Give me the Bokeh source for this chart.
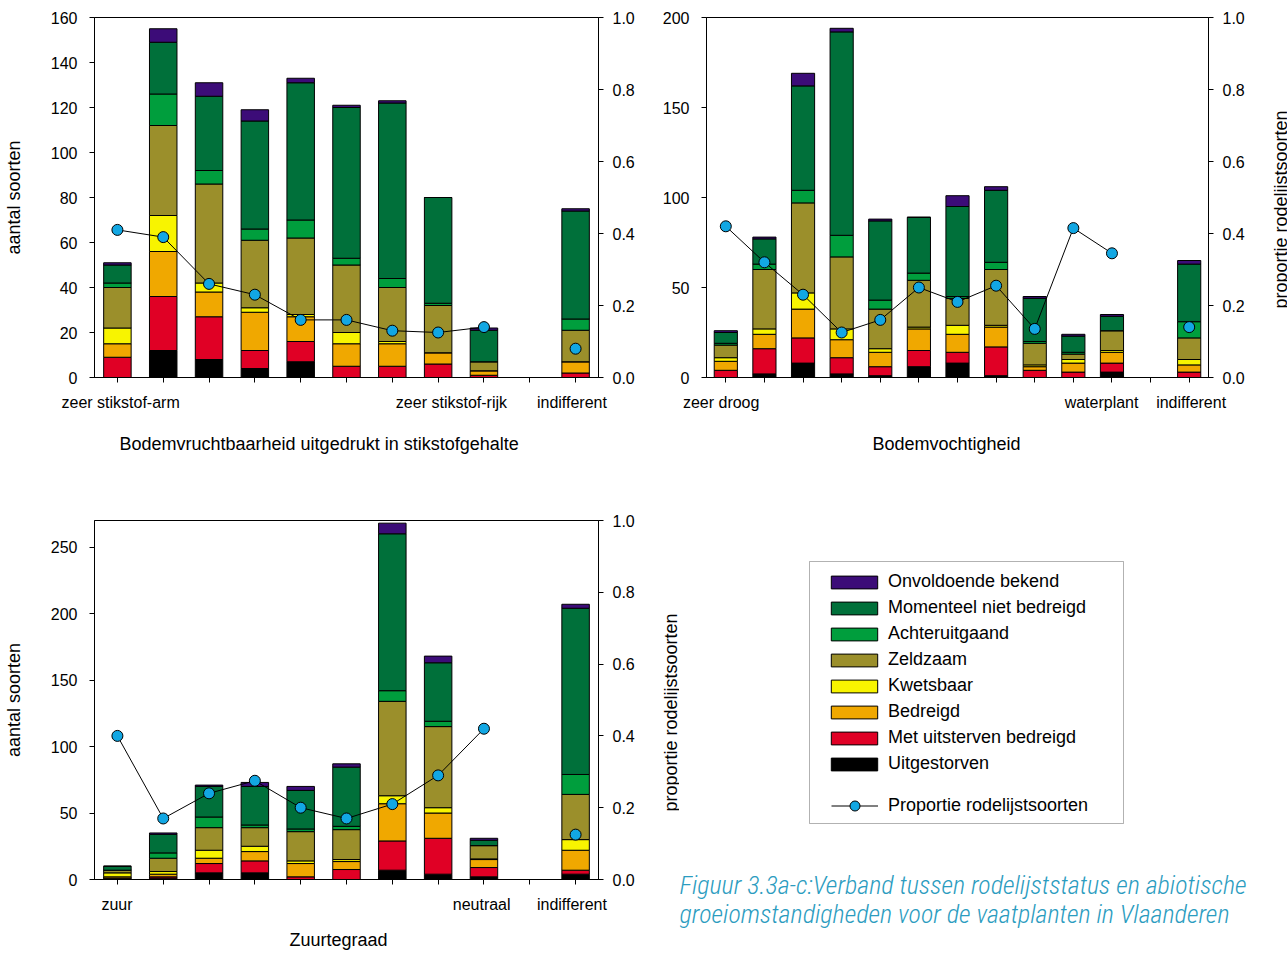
import math
from bokeh.plotting import figure
from bokeh.models import (Range1d, LinearAxis, FixedTicker, NumeralTickFormatter,
                          ColumnDataSource, Legend, LegendItem, BoxAnnotation, Label, Title)
from bokeh.layouts import row, column
from bokeh.embed import file_html
from bokeh.resources import INLINE

nan = float("nan")

# ---- legend / status classes (bottom -> top of each bar) ----
status_keys = ["uitgestorven", "met_uitsterven", "bedreigd", "kwetsbaar",
               "zeldzaam", "achteruit", "momenteel", "onvoldoende"]
status_names = ["Uitgestorven", "Met uitsterven bedreigd", "Bedreigd", "Kwetsbaar",
                "Zeldzaam", "Achteruitgaand", "Momenteel niet bedreigd", "Onvoldoende bekend"]
status_colors = ["#000000", "#e00025", "#f0a800", "#f8f400",
                 "#9b8f2b", "#009e3d", "#00703a", "#3c0c78"]
prop_name = "Proportie rodelijstsoorten"

# ---- chart a: stikstof ----
a_uitgestorven = [0, 12, 8, 4, 7, 0, 0, 0, 0, 0, 0]
a_met_uitsterven = [9, 24, 19, 8, 9, 5, 5, 6, 1, 0, 2]
a_bedreigd = [6, 20, 11, 17, 11, 10, 10, 5, 2, 0, 5]
a_kwetsbaar = [7, 16, 4, 2, 1, 5, 1, 0, 0, 0, 0]
a_zeldzaam = [18, 40, 44, 30, 34, 30, 24, 21, 4, 0, 14]
a_achteruit = [2, 14, 6, 5, 8, 3, 4, 1, 0, 0, 5]
a_momenteel = [8, 23, 33, 48, 61, 67, 78, 47, 14, 0, 48]
a_onvoldoende = [1, 6, 6, 5, 2, 1, 1, 0, 1, 0, 1]
a_prop = [0.41, 0.39, 0.26, 0.23, 0.16, 0.16, 0.13, 0.125, 0.14, nan, 0.08]
a_tick_pos = [1.07, 8.29, 10.92]
a_tick_labels = ["zeer stikstof-arm", "zeer stikstof-rijk", "indifferent"]
a_title = "Bodemvruchtbaarheid uitgedrukt in stikstofgehalte"

# ---- chart b: vochtigheid ----
b_uitgestorven = [0, 2, 8, 2, 1, 6, 8, 1, 0, 0, 3, 0, 0]
b_met_uitsterven = [4, 14, 14, 9, 5, 9, 6, 16, 4, 3, 5, 0, 3]
b_bedreigd = [5, 8, 16, 10, 8, 12, 10, 11, 2, 5, 6, 0, 4]
b_kwetsbaar = [2, 3, 9, 6, 2, 1, 5, 1, 1, 2, 1, 0, 3]
b_zeldzaam = [7, 33, 50, 40, 22, 26, 15, 31, 12, 3, 11, 0, 12]
b_achteruit = [1, 3, 7, 12, 5, 4, 1, 4, 1, 1, 0, 0, 9]
b_momenteel = [6, 14, 58, 113, 44, 31, 50, 40, 24, 9, 8, 0, 32]
b_onvoldoende = [1, 1, 7, 2, 1, 0, 6, 2, 1, 1, 1, 0, 2]
b_prop = [0.42, 0.32, 0.23, 0.125, 0.16, 0.25, 0.21, 0.255, 0.135, 0.415, 0.345, nan, 0.14]
b_tick_pos = [0.88, 10.73, 13.05]
b_tick_labels = ["zeer droog", "waterplant", "indifferent"]
b_title = "Bodemvochtigheid"

# ---- chart c: zuurtegraad ----
c_uitgestorven = [1, 1, 5, 5, 0, 0, 7, 4, 2, 0, 4]
c_met_uitsterven = [0, 1, 7, 9, 2, 7.5, 22, 27, 7, 0, 3]
c_bedreigd = [1, 2, 4, 7, 10, 6, 28, 19, 6, 0, 15]
c_kwetsbaar = [3, 2, 6, 4, 2, 1.5, 6, 4, 0.5, 0, 8]
c_zeldzaam = [2, 10, 17, 14, 22, 22.5, 71, 61, 10, 0, 34]
c_achteruit = [0, 4, 8, 2, 2, 2.5, 8, 4, 0, 0, 15]
c_momenteel = [3, 14, 23, 29, 29, 44.5, 118, 44, 4, 0, 125]
c_onvoldoende = [0, 1, 1, 3, 3, 2.5, 8, 5, 1.5, 0, 3]
c_prop = [0.40, 0.17, 0.24, 0.275, 0.20, 0.17, 0.21, 0.29, 0.42, nan, 0.125]
c_tick_pos = [0.99, 8.95, 10.92]
c_tick_labels = ["zuur", "neutraal", "indifferent"]
c_title = "Zuurtegraad"

prop_ticks = [0.0, 0.2, 0.4, 0.6, 0.8, 1.0]
y_label = "aantal soorten"
y2_label = "proportie rodelijstsoorten"
caption_lines = ["Figuur 3.3a-c:Verband tussen rodelijststatus en abiotische",
                 "groeiomstandigheden voor de vaatplanten in Vlaanderen"]

FONT = "Liberation Sans"
FS = "16px"
FL = "18px"
MARKER_COLOR = "#12a7e3"
CAPTION_FONT = "'Roboto Condensed Light', 'Roboto Condensed', 'Lato Light', Roboto"


def key_of(v):
    return int(v) if float(v).is_integer() else v


def make_chart(series, prop, ymax, yticks, tick_pos, tick_labels, title, title_offset,
               left_label, borders, frame_w, frame_h, x_std=11, title_std=37):
    n = len(prop)
    bl, bt, br, bb = borders
    p = figure(frame_width=frame_w, frame_height=frame_h, output_backend="svg",
               toolbar_location=None, x_range=Range1d(0.5, n + 0.5), y_range=Range1d(0, ymax),
               min_border_left=bl, min_border_top=bt, min_border_right=br, min_border_bottom=bb)
    p.extra_y_ranges = {"prop": Range1d(0, 1)}
    p.xgrid.visible = False
    p.ygrid.visible = False
    p.outline_line_color = "black"
    p.outline_line_alpha = 1
    p.background_fill_color = "white"
    p.border_fill_color = "white"

    data = {"x": list(range(1, n + 1)), "prop": prop}
    for k, vals in zip(status_keys, series):
        data[k] = vals
    src = ColumnDataSource(data)
    p.vbar_stack(status_keys, x="x", width=0.6, source=src, fill_color=status_colors,
                 line_color="black", line_width=1)
    p.line("x", "prop", source=src, y_range_name="prop", line_color="black", line_width=1)
    p.scatter("x", "prop", source=src, y_range_name="prop", marker="circle", size=11,
              fill_color=MARKER_COLOR, line_color="black", line_width=1)

    # left axis
    ya = p.yaxis[0]
    ya.ticker = FixedTicker(ticks=yticks)
    ya.major_tick_out = 5
    ya.major_tick_in = 0
    ya.minor_tick_line_color = None
    ya.major_label_standoff = 12
    ya.axis_line_color = "black"
    ya.major_tick_line_color = "black"
    ya.major_label_text_font = FONT
    ya.major_label_text_font_size = FS
    ya.major_label_text_color = "black"
    if left_label:
        ya.axis_label = left_label
        ya.axis_label_text_font = FONT
        ya.axis_label_text_font_size = FL
        ya.axis_label_text_font_style = "normal"
        ya.axis_label_text_color = "black"
        ya.axis_label_standoff = 24

    # right axis (proportion)
    ra = LinearAxis(y_range_name="prop", ticker=FixedTicker(ticks=prop_ticks),
                    formatter=NumeralTickFormatter(format="0.0"))
    ra.major_tick_out = 5
    ra.major_tick_in = 0
    ra.minor_tick_line_color = None
    ra.major_label_standoff = 9
    ra.major_label_text_font = FONT
    ra.major_label_text_font_size = FS
    ra.major_label_text_color = "black"
    p.add_layout(ra, "right")

    # bottom axis
    xa = p.xaxis[0]
    xa.ticker = FixedTicker(ticks=tick_pos, minor_ticks=list(range(1, n + 1)))
    xa.major_label_overrides = {key_of(v): t for v, t in zip(tick_pos, tick_labels)}
    xa.major_tick_out = 0
    xa.major_tick_in = 0
    xa.major_tick_line_color = None
    xa.minor_tick_out = 5
    xa.minor_tick_in = 0
    xa.minor_tick_line_color = "black"
    xa.major_label_standoff = x_std
    xa.major_label_text_font = FONT
    xa.major_label_text_font_size = FS
    xa.major_label_text_color = "black"

    t = Title(text=title, align="left", offset=title_offset, text_font=FONT,
              text_font_size=FL, text_font_style="normal", text_color="black",
              standoff=title_std)
    p.add_layout(t, "below")
    return p


def side_label(width, top, frame_h, bottom, x, y, text):
    """Narrow strip holding an upward-reading right-axis title."""
    s = figure(frame_width=width, frame_height=frame_h, output_backend="svg",
               toolbar_location=None, x_range=Range1d(0, width), y_range=Range1d(0, frame_h),
               min_border_left=0, min_border_right=0, min_border_top=top,
               min_border_bottom=bottom)
    s.axis.visible = False
    s.grid.visible = False
    s.outline_line_color = None
    s.background_fill_color = "white"
    s.border_fill_color = "white"
    s.add_layout(Label(x=x, y=y, text=text, angle=math.pi / 2, text_font=FONT,
                       text_font_size=FL, text_color="black", text_align="center",
                       text_baseline="middle"))
    return s


a_series = [a_uitgestorven, a_met_uitsterven, a_bedreigd, a_kwetsbaar,
            a_zeldzaam, a_achteruit, a_momenteel, a_onvoldoende]
b_series = [b_uitgestorven, b_met_uitsterven, b_bedreigd, b_kwetsbaar,
            b_zeldzaam, b_achteruit, b_momenteel, b_onvoldoende]
c_series = [c_uitgestorven, c_met_uitsterven, c_bedreigd, c_kwetsbaar,
            c_zeldzaam, c_achteruit, c_momenteel, c_onvoldoende]

p1 = make_chart(a_series, a_prop, 160, list(range(0, 161, 20)), a_tick_pos, a_tick_labels,
                a_title, 25, y_label, (93, 17, 43, 103), 504, 360)
p2 = make_chart(b_series, b_prop, 200, list(range(0, 201, 50)), b_tick_pos, b_tick_labels,
                b_title, 166, None, (65, 17, 52, 103), 502, 360)
p2_lab = side_label(28, 17, 360, 103, 20, 168, y2_label)
p3 = make_chart(c_series, c_prop, 270, list(range(0, 251, 50)), c_tick_pos, c_tick_labels,
                c_title, 195, y_label, (93, 40, 50, 77), 504, 359, title_std=24)
p3_lab = side_label(31, 40, 359, 77, 22, 167, y2_label)

# ---- legend + caption panel (frame from the top of chart c's frame to the page bottom) ----
LW, LH = 609, 436
pl = figure(frame_width=LW, frame_height=LH, output_backend="svg", toolbar_location=None,
            x_range=Range1d(0, LW), y_range=Range1d(0, LH),
            min_border_left=0, min_border_right=0, min_border_top=40, min_border_bottom=0)
pl.axis.visible = False
pl.grid.visible = False
pl.outline_line_color = None
pl.background_fill_color = "white"
pl.border_fill_color = "white"

pl.add_layout(BoxAnnotation(left=130, right=444, bottom=133, top=395, fill_alpha=0,
                            line_color="black", line_width=1))

items = []
for name, color in zip(status_names, status_colors):
    r = pl.vbar(x=[0], top=[0], width=1, fill_color=color, line_color="black",
                line_width=1, visible=False)
    items.append(LegendItem(label=name, renderers=[r]))
items = items[::-1]
legA = Legend(items=items, location=(146, 182), glyph_width=58, glyph_height=16,
              label_height=21, spacing=5, label_standoff=5, padding=0, margin=0,
              border_line_color=None, background_fill_alpha=0,
              label_text_font=FONT, label_text_font_size=FL, label_text_color="black")
pl.add_layout(legA)

lr = pl.line(x=[0, 0], y=[0, 0], line_color="black", line_width=1, visible=False)
sr = pl.scatter(x=[0], y=[0], marker="circle", size=11, fill_color=MARKER_COLOR,
                line_color="black", line_width=1, visible=False)
legB = Legend(items=[LegendItem(label=prop_name, renderers=[lr, sr])], location=(152, 138),
              glyph_width=47, glyph_height=25, label_height=25, spacing=0, label_standoff=10,
              padding=0, margin=0, border_line_color=None, background_fill_alpha=0,
              label_text_font=FONT, label_text_font_size=FL, label_text_color="black")
pl.add_layout(legB)

for txt, yb in zip(caption_lines, [72, 43]):
    pl.add_layout(Label(x=0, y=yb, text=txt, text_font=CAPTION_FONT,
                        text_font_size="26px", text_font_style="italic",
                        text_color="#2b9cc0", text_baseline="alphabetic", text_align="left"))

layout = column(row(p1, p2, p2_lab), row(p3, p3_lab, pl))
open("out.html", "w").write(file_html(layout, INLINE))
